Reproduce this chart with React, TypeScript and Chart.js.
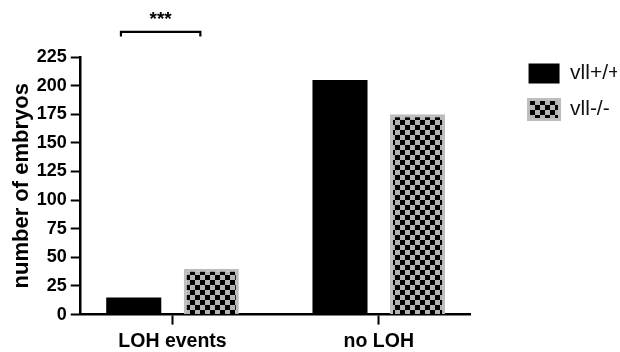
import { useEffect, useRef } from "react";
import { Chart, registerables } from "chart.js";

Chart.register(...registerables);

const categories = ["LOH events", "no LOH"];
const seriesNames = ["vll+/+", "vll-/-"];
const wildTypeCounts = [15, 205];
const mutantCounts = [40, 175];
const yMin = 0;
const yMax = 225;
const yStep = 25;
const significanceLabel = "***";
const bracketFrom = -0.25;
const bracketTo = 0.135;
const bracketLevel = 247;
const bracketTipLevel = 243;
const starLevel = 257.5;

const FONT = "'Liberation Sans', Arial, Helvetica, sans-serif";

function makeChecker(): CanvasPattern | string {
  const c = document.createElement("canvas");
  c.width = 10;
  c.height = 10;
  const g = c.getContext("2d");
  if (!g) return "#888";
  g.fillStyle = "#b3b3b3";
  g.fillRect(0, 0, 10, 10);
  g.fillStyle = "#000";
  g.fillRect(0, 0, 5, 5);
  g.fillRect(5, 5, 5, 5);
  const p = g.createPattern(c, "repeat");
  return p || "#888";
}

const bracketPlugin = {
  id: "sigBracket",
  afterDraw(chart: any) {
    const { ctx, scales } = chart;
    const x = scales.x;
    const y = scales.y;
    const x1 = x.getPixelForValue(bracketFrom);
    const x2 = x.getPixelForValue(bracketTo);
    const yl = y.getPixelForValue(bracketLevel);
    const yt = y.getPixelForValue(bracketTipLevel);
    ctx.save();
    ctx.strokeStyle = "#000";
    ctx.lineWidth = 2.2;
    ctx.beginPath();
    ctx.moveTo(x1, yt);
    ctx.lineTo(x1, yl);
    ctx.lineTo(x2, yl);
    ctx.lineTo(x2, yt);
    ctx.stroke();
    ctx.fillStyle = "#000";
    ctx.font = `bold 19px ${FONT}`;
    ctx.textAlign = "center";
    ctx.textBaseline = "middle";
    ctx.fillText(significanceLabel, (x1 + x2) / 2, y.getPixelForValue(starLevel));
    ctx.restore();
  },
};

export default function App() {
  const ref = useRef<HTMLCanvasElement | null>(null);

  useEffect(() => {
    document.body.style.margin = "0";
    const canvas = ref.current;
    if (!canvas) return;
    const checker = makeChecker();
    const chart = new Chart(canvas, {
      type: "bar",
      data: {
        datasets: [
          {
            label: seriesNames[0],
            data: wildTypeCounts.map((v, i) => ({ x: i, y: v })),
            backgroundColor: "#000",
            borderColor: "#000",
            borderWidth: 0,
          },
          {
            label: seriesNames[1],
            data: mutantCounts.map((v, i) => ({ x: i, y: v })),
            backgroundColor: checker as any,
            borderColor: "#bdbdbd",
            borderWidth: 3,
          },
        ],
      },
      options: {
        responsive: false,
        animation: false,
        devicePixelRatio: 1,
        categoryPercentage: 0.752,
        barPercentage: 0.71,
        layout: { padding: { top: 48, left: -3.7, right: 3, bottom: -6 } },
        plugins: {
          tooltip: { enabled: false },
          title: {
            display: true,
            text: "",
            padding: 0,
            font: { size: 9, lineHeight: 1 },
          },
          legend: {
            position: "right",
            align: "start",
            fullSize: true,
            labels: {
              boxWidth: 31,
              boxHeight: 20,
              padding: 15,
              color: "#111",
              font: { family: FONT, size: 21 },
            },
          },
        },
        scales: {
          x: {
            type: "linear",
            min: -0.445,
            max: 1.445,
            offset: false,
            afterBuildTicks: (s: any) => {
              s.ticks = categories.map((_, i) => ({ value: i }));
            },
            ticks: {
              autoSkip: false,
              padding: 5,
              color: "#000",
              font: { family: FONT, size: 19.5, weight: "bold" },
              callback: (v: any) => categories[v as number] ?? "",
            },
            grid: {
              offset: false,
              drawOnChartArea: false,
              drawTicks: true,
              tickLength: 10,
              tickWidth: 2,
              tickColor: "#000",
            },
            border: { display: true, color: "#000", width: 2.5 },
          },
          y: {
            type: "linear",
            min: yMin,
            max: yMax,
            ticks: {
              stepSize: yStep,
              padding: 4,
              color: "#000",
              font: { family: FONT, size: 18, weight: "bold" },
            },
            grid: {
              drawOnChartArea: false,
              drawTicks: true,
              tickLength: 10,
              tickWidth: 2,
              tickColor: "#000",
            },
            border: { display: true, color: "#000", width: 2.5 },
            title: {
              display: true,
              text: "number of embryos",
              color: "#000",
              padding: { top: 14.4, bottom: 0 },
              font: { family: FONT, size: 22, weight: "bold", lineHeight: 1 },
            },
          },
          y2: {
            type: "linear",
            position: "right",
            display: true,
            grid: { display: false },
            border: { display: false },
            ticks: { display: false },
            afterFit: (s: any) => {
              s.width = 43;
            },
          },
        },
      },
      plugins: [bracketPlugin],
    });
    return () => chart.destroy();
  }, []);

  return <canvas ref={ref} width={620} height={352} style={{ display: "block" }} />;
}
